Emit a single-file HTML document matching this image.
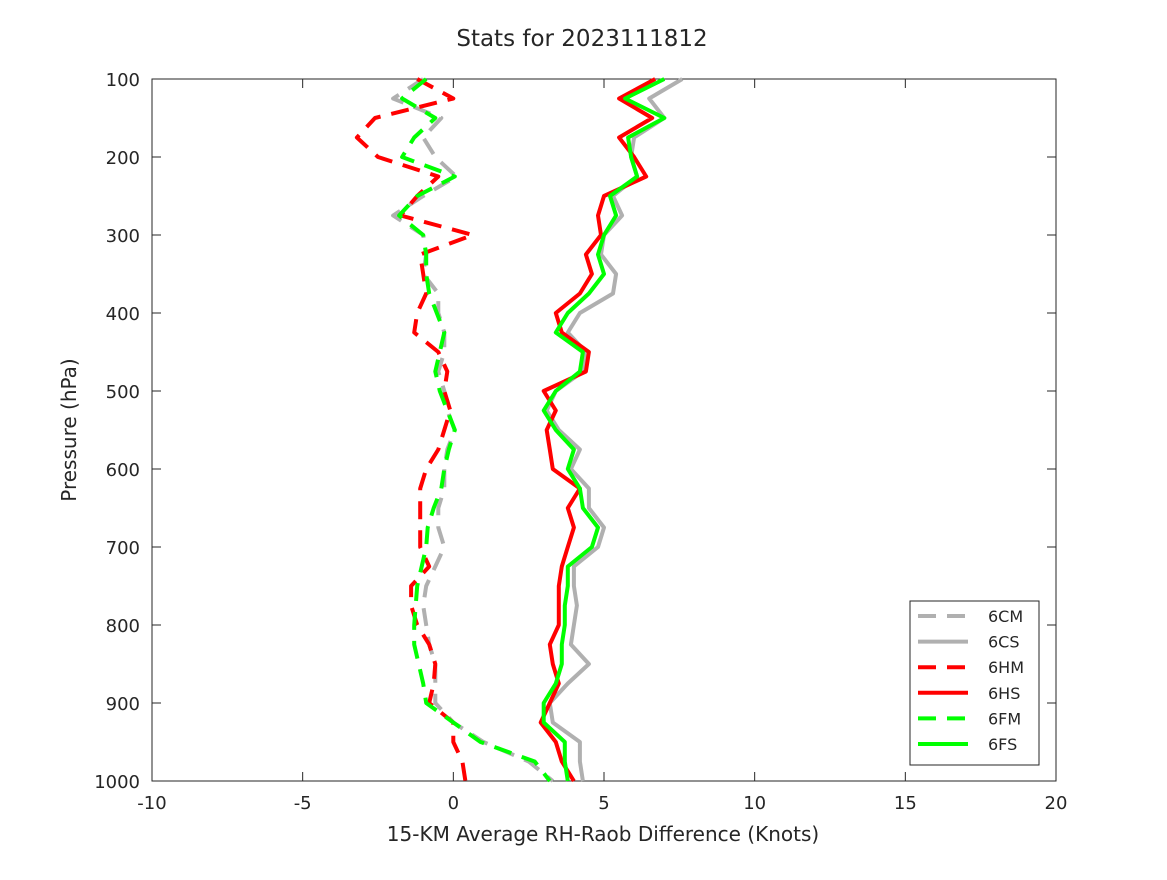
<!DOCTYPE html>
<html><head><meta charset="utf-8"><style>
body{margin:0;background:#fff}
svg text{font-family:"DejaVu Sans","Liberation Sans",sans-serif;fill:#262626}
</style></head><body>
<svg id="c" width="1167" height="875" viewBox="0 0 1167 875"></svg>
<script>
const levels=[100,125,150,175,200,225,250,275,300,325,350,375,400,425,450,475,500,525,550,575,600,625,650,675,700,725,750,775,800,825,850,875,900,925,950,975,1000];
const s6CM=[-1.0,-2.0,-0.4,-1.0,-0.6,0.1,-1.0,-2.0,-1.0,-0.9,-1.0,-0.5,-0.5,-0.3,-0.3,-0.5,-0.3,-0.2,0.05,-0.2,-0.3,-0.3,-0.5,-0.5,-0.3,-0.6,-0.9,-1.0,-0.9,-0.8,-0.6,-0.6,-0.6,0.0,1.0,2.5,3.3];
const s6CS=[7.6,6.5,7.0,6.0,5.9,6.1,5.3,5.6,5.0,4.9,5.4,5.3,4.2,3.8,4.4,4.3,3.4,3.1,3.5,4.2,3.9,4.5,4.5,5.0,4.8,4.0,4.0,4.1,4.0,3.9,4.5,3.8,3.2,3.3,4.2,4.2,4.3];
const s6HM=[-1.2,0,-2.6,-3.2,-2.5,-0.5,-1.2,-1.75,0.65,-1.1,-1.0,-0.9,-1.2,-1.3,-0.5,-0.2,-0.3,-0.1,-0.3,-0.5,-0.9,-1.1,-1.1,-1.1,-1.1,-0.8,-1.4,-1.4,-1.2,-0.8,-0.6,-0.65,-0.8,0,0,0.3,0.4];
const s6HS=[6.7,5.5,6.6,5.5,6.0,6.4,5.0,4.8,4.9,4.4,4.6,4.2,3.4,3.6,4.5,4.4,3.0,3.4,3.1,3.2,3.3,4.2,3.8,4.0,3.8,3.6,3.5,3.5,3.5,3.2,3.3,3.5,3.2,2.9,3.4,3.6,4.0];
const s6FM=[-0.9,-1.7,-0.6,-1.3,-1.7,0.05,-1.2,-1.8,-1.0,-0.9,-0.9,-0.8,-0.55,-0.3,-0.45,-0.6,-0.45,-0.2,0.05,-0.15,-0.3,-0.4,-0.65,-0.85,-0.9,-1.05,-1.2,-1.25,-1.3,-1.3,-1.15,-1.0,-0.9,0.0,0.9,2.7,3.2];
const s6FS=[7.0,5.7,7.0,5.8,5.9,6.1,5.2,5.4,5.0,4.8,5.0,4.5,3.8,3.4,4.3,4.2,3.4,3.0,3.4,4.0,3.8,4.2,4.3,4.8,4.6,3.8,3.8,3.7,3.7,3.6,3.6,3.4,3.0,3.0,3.7,3.7,3.8];
const xTicks=[-10,-5,0,5,10,15,20];
const yTicks=[100,200,300,400,500,600,700,800,900,1000];
const seriesNames=["6CM","6CS","6HM","6HS","6FM","6FS"];
const L=152,R=1056,T=79,B=781;
const X=v=>L+(v+10)/30*(R-L);
const Y=p=>T+(p-100)/900*(B-T);
const svg=document.getElementById('c');
const NS='http://www.w3.org/2000/svg';
function mk(tag,attrs,parent){const e=document.createElementNS(NS,tag);for(const k in attrs)e.setAttribute(k,attrs[k]);(parent||svg).appendChild(e);return e;}
let e=mk('rect',{x:L,y:T,width:R-L,height:B-T,fill:'#fff',stroke:'#262626','stroke-width':1});


xTicks.forEach(v=>{
  const x=X(v);
  let t=mk('path',{d:`M${x},${B}V${B-9}M${x},${T}V${T+9}`,stroke:'#262626','stroke-width':1});
  
  
  let l=mk('text',{x:x,y:809,'text-anchor':'middle','font-size':18});
  l.textContent=v;
  
  
});
yTicks.forEach(p=>{
  const y=Y(p);
  let t=mk('path',{d:`M${L},${y}H${L+9}M${R},${y}H${R-9}`,stroke:'#262626','stroke-width':1});
  
  
  let l=mk('text',{x:140,y:y+7,'text-anchor':'end','font-size':18});
  l.textContent=p;
  
  
});
const styles=[['#b0b0b0',true],['#b0b0b0',false],['#ff0000',true],['#ff0000',false],['#00ff00',true],['#00ff00',false]];
const data=[s6CM,s6CS,s6HM,s6HS,s6FM,s6FS];
data.forEach((s,i)=>{
  const d=s.map((v,j)=>(j?'L':'M')+X(v).toFixed(1)+','+Y(levels[j]).toFixed(1)).join('');
  const a={d:d,fill:'none',stroke:styles[i][0],'stroke-width':4,'stroke-linejoin':'round'};
  if(styles[i][1])a['stroke-dasharray']='18,11';
  let p=mk('path',a);
  
  
});
const lg=mk('g',{});


let lr=mk('rect',{x:910,y:601,width:129,height:164,fill:'#fff',stroke:'#262626','stroke-width':1},lg);


seriesNames.forEach((n,i)=>{
  const y=616+i*25.6;
  const a={d:`M918,${y}H968`,stroke:styles[i][0],'stroke-width':4};
  if(styles[i][1])a['stroke-dasharray']='18,11';
  let ln=mk('path',a,lg);
  
  
  let tx=mk('text',{x:988,y:y+6,'font-size':16},lg);
  tx.textContent=n;
  
  
});
let ti=mk('text',{x:582,y:46,'text-anchor':'middle','font-size':23});
ti.textContent='Stats for 2023111812';


let xt=mk('text',{x:603,y:841,'text-anchor':'middle','font-size':20});
xt.textContent='15-KM Average RH-Raob Difference (Knots)';


let yt=mk('text',{x:0,y:0,'text-anchor':'middle','font-size':20,transform:'translate(76,430) rotate(-90)'});
yt.textContent='Pressure (hPa)';


</script>
</body></html>
